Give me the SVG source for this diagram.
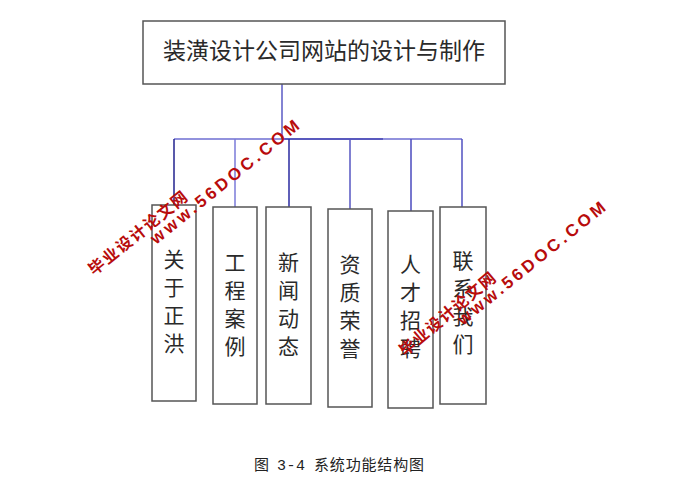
<svg xmlns="http://www.w3.org/2000/svg" width="689" height="491" viewBox="0 0 689 491">
<style>
.box{fill:#fff;stroke:#555;stroke-width:1.5}
.t{font-family:"Noto Sans CJK SC","Liberation Sans",sans-serif;fill:#2a2a2a;text-anchor:middle}
.v{font-family:"Noto Sans CJK SC",sans-serif;fill:#2a2a2a;font-size:21px;writing-mode:vertical-rl;text-anchor:start;letter-spacing:7px}
.ln{fill:none;stroke-width:1.5}
.wm{font-family:"Noto Sans CJK SC","Liberation Sans",sans-serif;font-weight:bold;fill:#b80c0c;font-size:16px}
.ww{font-family:"Liberation Sans",sans-serif;font-weight:bold;fill:#b80c0c;font-size:17px}
</style>
<rect width="689" height="491" fill="#fff"/>
<g id="connectors">
<line class="ln" x1="282" y1="84" x2="282" y2="139" stroke="#5a5ac4"/>
<line class="ln" x1="174" y1="139" x2="282" y2="139" stroke="#6e6ed2"/>
<line class="ln" x1="282" y1="139" x2="383" y2="139" stroke="#2222a8"/>
<line class="ln" x1="383" y1="139" x2="462" y2="139" stroke="#6e6ed2"/>
<line class="ln" x1="174" y1="139" x2="174" y2="205" stroke="#22228e"/>
<line class="ln" x1="235" y1="139" x2="235" y2="207" stroke="#7a7ad8"/>
<line class="ln" x1="289" y1="139" x2="289" y2="207" stroke="#2a2aa0"/>
<line class="ln" x1="350" y1="139" x2="350" y2="209" stroke="#5656c2"/>
<line class="ln" x1="411" y1="139" x2="411" y2="211" stroke="#4a4abe"/>
<line class="ln" x1="462" y1="139" x2="462" y2="207" stroke="#5050c0"/>
</g>
<g id="root">
<rect class="box" x="143" y="21" width="362" height="63"/>
<text class="t" x="324" y="59" font-size="23">装潢设计公司网站的设计与制作</text>
</g>
<g id="n1">
<rect class="box" x="152" y="205" width="44" height="196"/>
<text class="v" x="174" y="249">关于正洪</text>
</g>
<g id="n2">
<rect class="box" x="213" y="207" width="44" height="197"/>
<text class="v" x="235" y="252">工程案例</text>
</g>
<g id="n3">
<rect class="box" x="266" y="207" width="45" height="197"/>
<text class="v" x="288.5" y="252">新闻动态</text>
</g>
<g id="n4">
<rect class="box" x="328" y="209" width="44" height="198"/>
<text class="v" x="350" y="254">资质荣誉</text>
</g>
<g id="n5">
<rect class="box" x="388" y="211" width="45" height="197"/>
<text class="v" x="410.5" y="254">人才招聘</text>
</g>
<g id="n6">
<rect class="box" x="440" y="207" width="46" height="197"/>
<text class="v" x="463" y="250">联系我们</text>
</g>
<g id="caption" font-family="'Noto Sans CJK SC','Liberation Mono',monospace" font-size="15" fill="#222">
<text x="254" y="470">图</text>
<text x="277" y="470" textLength="28" lengthAdjust="spacing" font-family="'Liberation Mono',monospace">3-4</text>
<text x="314" y="470" textLength="110" lengthAdjust="spacing">系统功能结构图</text>
</g>
<g id="watermark1">
<text class="wm" transform="translate(94,276) rotate(-39)" textLength="122" lengthAdjust="spacing">毕业设计论文网</text>
<text class="ww" transform="translate(156,245) rotate(-39)" textLength="186" lengthAdjust="spacing">www.56DOC.COM</text>
</g>
<g id="watermark2">
<text class="wm" transform="translate(405,357) rotate(-40)" textLength="120" lengthAdjust="spacing">毕业设计论文网</text>
<text class="ww" transform="translate(463,326) rotate(-39)" textLength="185" lengthAdjust="spacing">www.56DOC.COM</text>
</g>
</svg>
